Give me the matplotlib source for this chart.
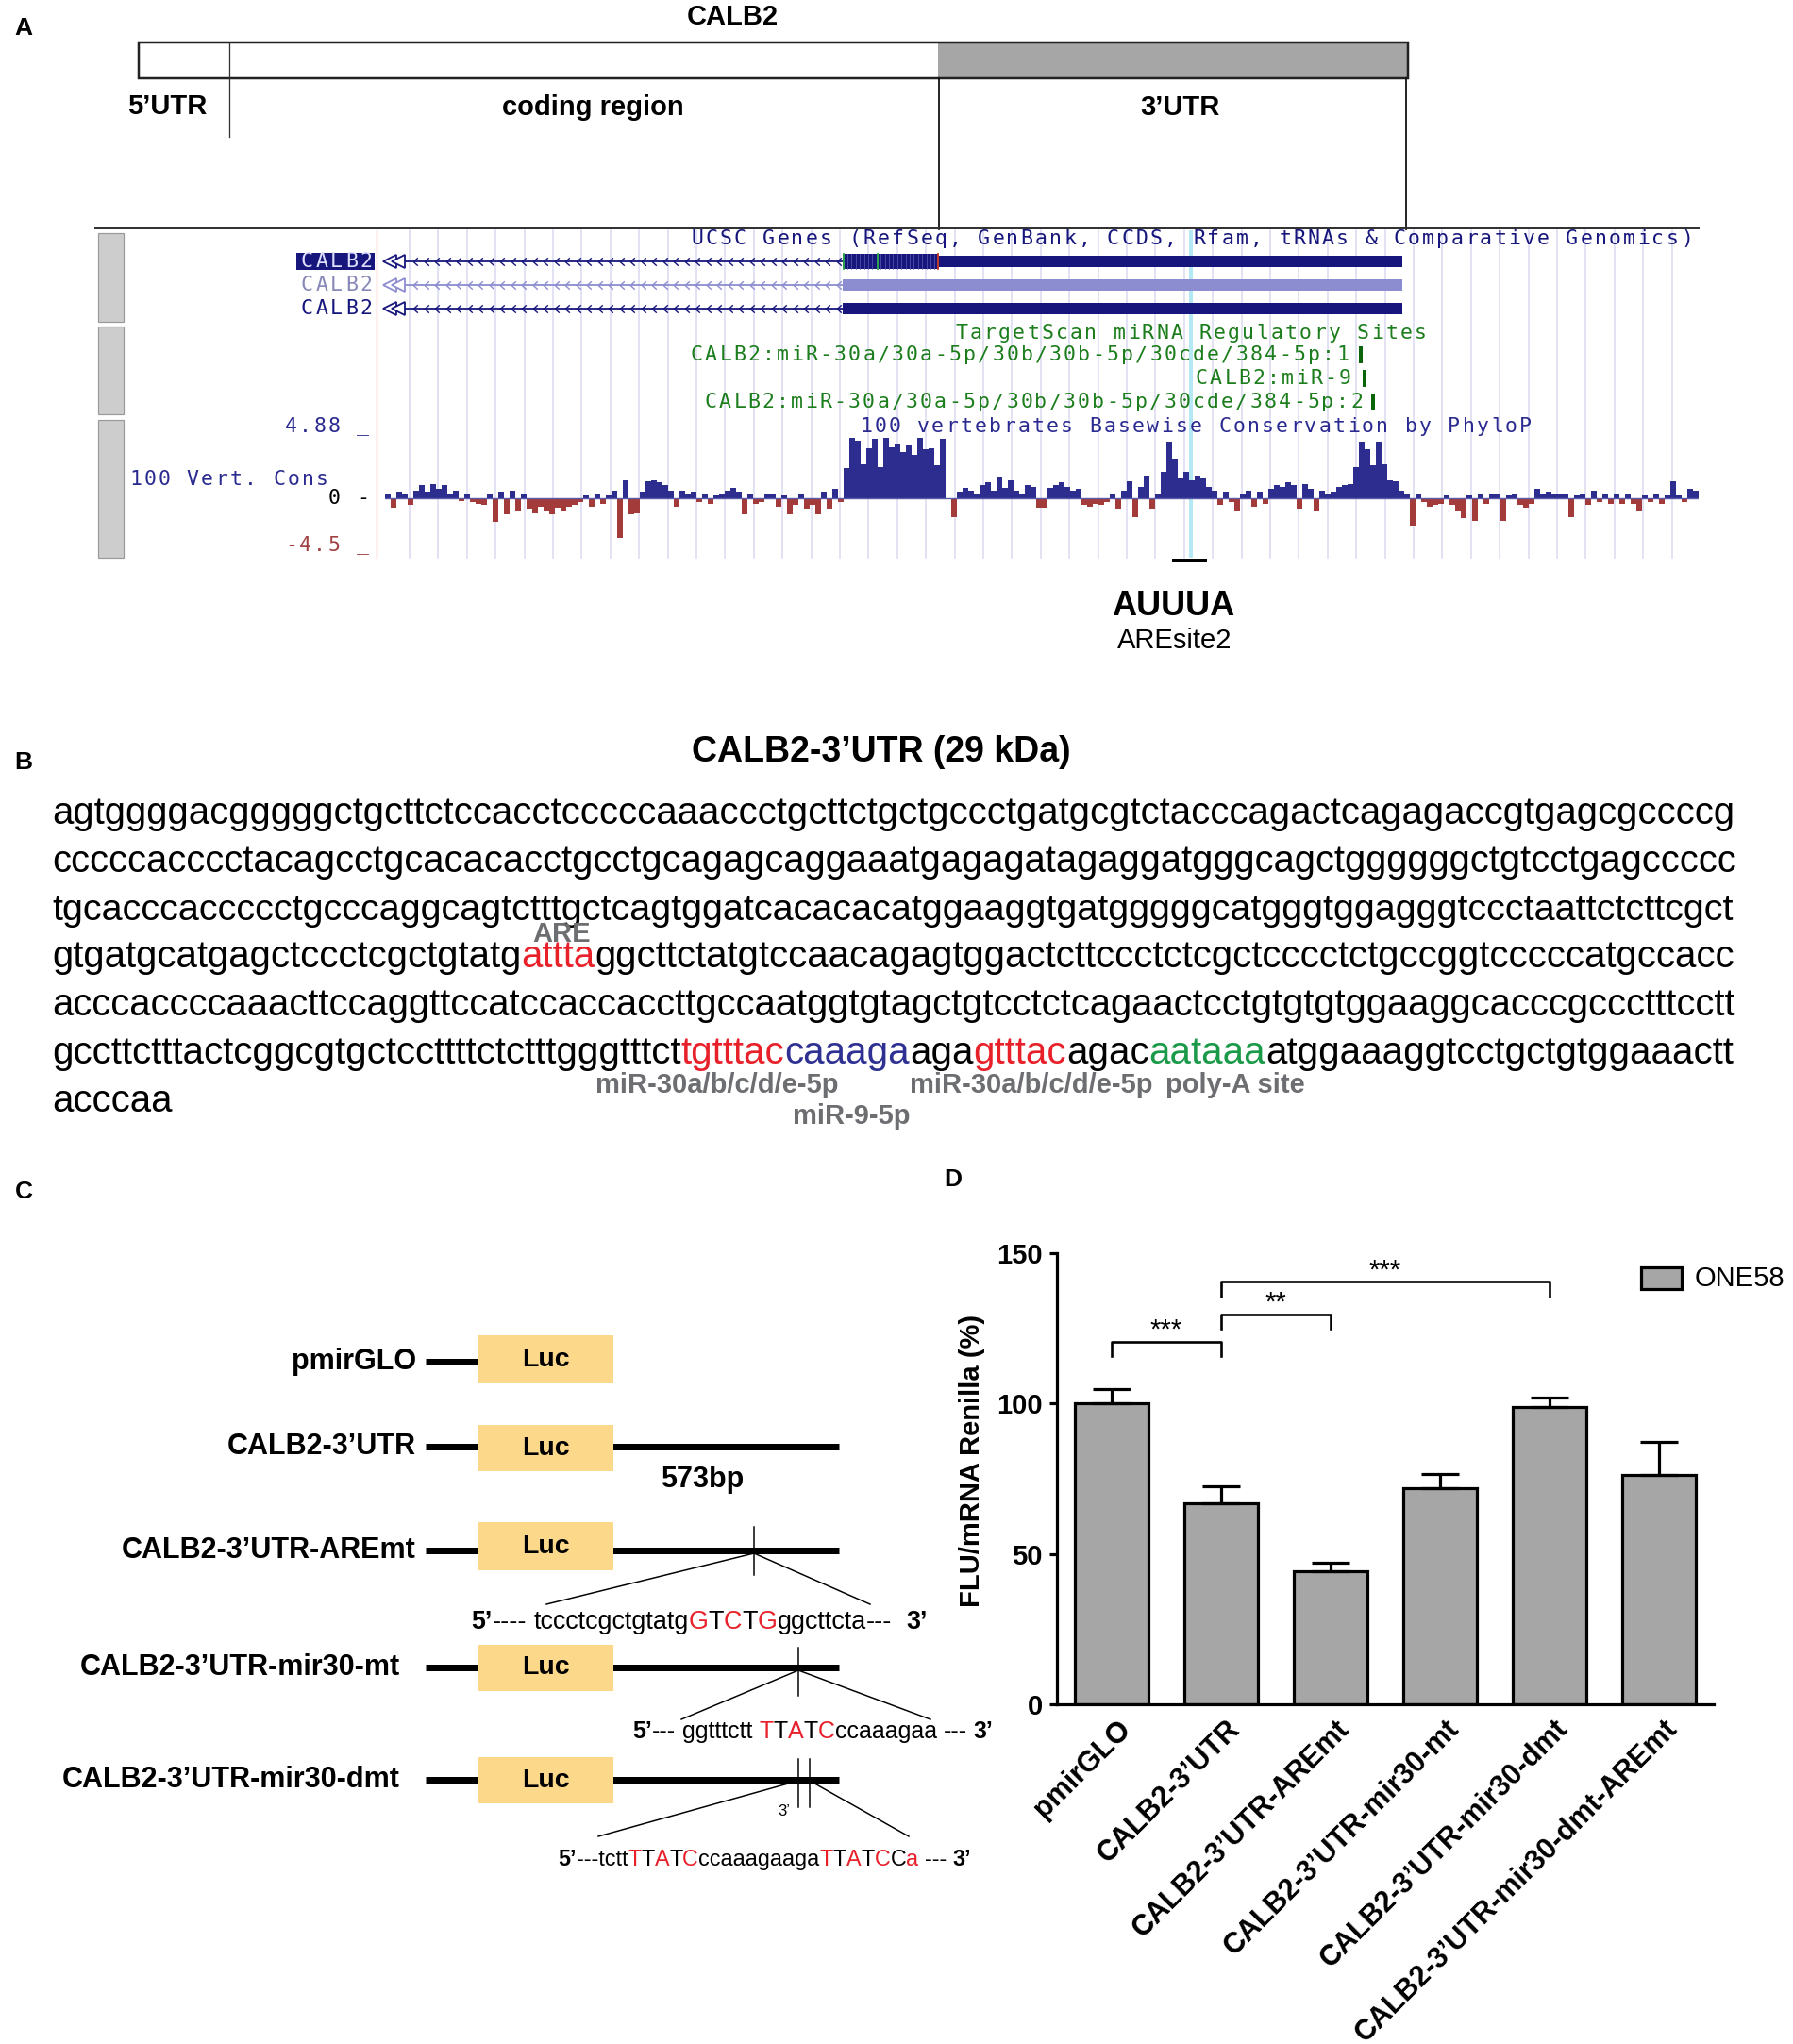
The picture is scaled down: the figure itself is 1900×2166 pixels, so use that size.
import numpy as np
import matplotlib
matplotlib.use('Agg')
import matplotlib.pyplot as plt
from matplotlib.patches import Rectangle
from matplotlib.path import Path
from matplotlib.transforms import ScaledTranslation

# ---------------- data ----------------
constructs = ['pmirGLO', 'CALB2-3’UTR', 'CALB2-3’UTR-AREmt', 'CALB2-3’UTR-mir30-mt',
              'CALB2-3’UTR-mir30-dmt', 'CALB2-3’UTR-mir30-dmt-AREmt']
flu_mean = [100.2, 66.7, 44.1, 71.9, 98.7, 76.4]
flu_err = [4.5, 5.7, 3.0, 4.7, 3.4, 10.7]
sig_pairs = [(0, 1), (1, 2), (1, 4)]
sig_labels = ['***', '**', '***']
sig_heights = [120.5, 129.7, 140.5]
y_ticks = [0, 50, 100, 150]
legend_label = 'ONE58'

# PhyloP basewise conservation (approximate, read from the browser track)
phylop_scores = [
    0.4, -0.7, 0.5, 0.4, -0.5, 0.6, 1.0, 0.5, 1.1, 0.7, 1.0, 0.3, 0.6, -0.2, 0.3,
    -0.3, -0.4, -0.5, 0.3,
    -1.8,
    0.5, -1.2, 0.6, -1.0, 0.4,
    -0.8, -1.1, -0.6, -0.9, -1.2, -0.7, -1.0, -0.6, -0.5, -0.3,
    0.2, -0.6, 0.3, -0.4, 0.2, 0.6,
    -3.0, 1.4, -1.2, -1.1,
    0.5, 1.3, 1.4, 1.2, 1.0, 0.6,
    -0.6, 0.6, 0.4, 0.5, -0.3, 0.3, -0.4, 0.2, 0.4, 0.6, 0.8, 0.5, -1.2, 0.3, -0.4,
    -0.3, 0.4, 0.3, -0.6, 0.2, -1.2, -0.5, 0.3, -0.8, -0.5, -1.2, 0.5, -0.8, 0.7, -0.3,
    2.3, 4.6, 4.4, 2.6, 3.8, 4.5, 2.4, 4.6, 3.9, 4.1, 3.5, 4.0, 3.3, 4.6, 3.7, 3.8, 2.5, 4.5,
    0.0, -1.4, 0.5, 0.8, 0.6, 0.3, 1.0, 1.2, 0.6, 1.6, 0.8, 1.4, 0.6, 0.4, 1.0, 0.9, -0.7, -0.7, 0.8,
    1.0, 1.2, 0.9, 0.6, 0.7,
    -0.5, -0.6, -0.4, -0.5, -0.3, 0.4,
    -0.8, 0.6, 1.3, -1.4, 0.9, 1.7, -0.8, 0.4,
    2.0, 4.3, 3.0,
    1.5, 2.0, 1.4, 1.7, 1.5, 0.9,
    0.6, -0.5, 0.5, -0.3, -1.0, 0.4, 0.6, -0.6, 0.5, -0.4, 0.7, 1.0, 0.9, 1.2, 1.0, -0.8,
    1.1, 0.7, -1.0, 0.6, 0.3, 0.5,
    0.9, 1.0, 1.1, 2.4,
    4.3, 3.7, 2.5, 4.3, 2.6,
    1.4, 1.3, 0.6, 0.3,
    -2.1, 0.4, -0.3, -0.6, -0.5, -0.4, 0.2, -0.5, -1.0, -1.5, 0.2, -1.7, 0.3, -0.4, 0.4,
    0.3, -1.7, 0.2, 0.3, -0.5, -0.7, -0.4, 0.7, 0.4, 0.5, 0.3, 0.4, 0.3, -1.4, 0.2, 0.4,
    -0.5, 0.6, -0.3, 0.4, -0.4, 0.3, -0.4, 0.3, -0.4, -1.0, 0.2, -0.3, 0.3, -0.4, 0.2,
    1.3, 0.2, -0.3, 0.7, 0.6,
]

seq_lines = [
    [('agtggggacgggggctgcttctccacctcccccaaaccctgcttctgctgccctgatgcgtctacccagactcagagaccgtgagcgccccg', 'k')],
    [('cccccacccctacagcctgcacacacctgcctgcagagcaggaaatgagagatagaggatgggcagctggggggctgtcctgagccccc', 'k')],
    [('tgcacccaccccctgcccaggcagtctttgctcagtggatcacacacatggaaggtgatgggggcatgggtggagggtccctaattctcttcgct', 'k')],
    [('gtgatgcatgagctccctcgctgtatg', 'k'), ('attta', 'red'),
     ('ggcttctatgtccaacagagtggactcttccctctcgctcccctctgccggtcccccatgccacc', 'k')],
    [('acccaccccaaacttccaggttccatccaccaccttgccaatggtgtagctgtcctctcagaactcctgtgtgtggaaggcacccgccctttcctt', 'k')],
    [('gccttctttactcggcgtgctccttttctctttgggtttct', 'k'), ('tgtttac', 'red'), ('caaaga', 'blue'),
     ('aga', 'k'), ('gtttac', 'red'), ('agac', 'k'), ('aataaa', 'green'),
     ('atggaaaggtcctgctgtggaaactt', 'k')],
    [('acccaa', 'k')],
]

# ---------------- setup ----------------
SANS = 'Liberation Sans'
MONO = 'DejaVu Sans Mono'
W, H, DPI = 1900, 2166, 100
PX = 72.0 / DPI   # pixel -> points
plt.rcParams['font.family'] = [SANS, 'DejaVu Sans']
fig = plt.figure(figsize=(W / DPI, H / DPI), dpi=DPI)
fig.patch.set_facecolor('white')
ax = fig.add_axes([0, 0, 1, 1])
ax.set_xlim(0, W)
ax.set_ylim(H, 0)
ax.axis('off')
renderer = fig.canvas.get_renderer()

COL = {'k': 'black', 'red': '#E8202A', 'blue': '#2E3192', 'green': '#1A9A48', 'grey': '#6D6E71'}
NAVY = '#16167c'


def fig_axes(x0, y0, x1, y1):
    a = fig.add_axes([x0 / W, 1 - y1 / H, (x1 - x0) / W, (y1 - y0) / H])
    a.patch.set_alpha(0)
    return a


def measure(t, size, weight='normal'):
    if t.strip() == '':
        return len(t) * 0.278 * size / PX
    a = ax.text(0, 0, t, fontsize=size, fontweight=weight)
    w = a.get_window_extent(renderer).width
    a.remove()
    return w


def draw_runs(x0, y, pieces, size, target=None, va='baseline'):
    if target is not None:
        tot = sum(measure(t, size, w) for t, c, w in pieces)
        size = size * target / tot
    x = x0
    for t, c, w in pieces:
        wd = measure(t, size, w)
        if t.strip():
            ax.text(x, y, t, fontsize=size, color=c, fontweight=w, va=va, ha='left')
        x += wd
    return size


def mono(x, y, s, color, pitch=15.2, size=15.5, align='left', z=3):
    if align == 'right':
        x = x - pitch * len(s)
    elif align == 'center':
        x = x - pitch * len(s) / 2
    for i, ch in enumerate(s):
        if ch != ' ':
            ax.text(x + pitch * (i + 0.5), y, ch, fontsize=size, family=MONO, color=color,
                    ha='center', va='center', zorder=z)


def letter(x, y, s):
    ax.text(x, y, s, fontsize=19, fontweight='bold', ha='center', va='center')


# ================= Panel A =================
letter(25, 30, 'A')
ax.text(776, 18, 'CALB2', fontsize=21, fontweight='bold', ha='center', va='center')
ax.add_patch(Rectangle((147, 45), 994 - 147, 38, fc='white', ec='none'))
ax.add_patch(Rectangle((994, 45), 1492 - 994, 38, fc='#a6a6a6', ec='none'))
ax.add_patch(Rectangle((147, 45), 1492 - 147, 38, fc='none', ec='#222222', lw=2.5 * PX))
ax.plot([243, 243], [45, 145], color='#333333', lw=1.3 * PX)
ax.plot([995, 995], [83, 243], color='#111111', lw=1.8 * PX)
ax.plot([1490, 1490], [83, 243], color='#111111', lw=1.8 * PX)
ax.text(177, 113, '5’UTR', fontsize=21, fontweight='bold', ha='center', va='center')
ax.text(628, 114, 'coding region', fontsize=21, fontweight='bold', ha='center', va='center')
ax.text(1250, 114, '3’UTR', fontsize=21, fontweight='bold', ha='center', va='center')

# UCSC browser frame
ax.plot([101, 1800], [242, 242], color='#333333', lw=2 * PX)
for y0, y1 in [(247, 341), (346, 439), (445, 591)]:
    ax.add_patch(Rectangle((104, y0), 27, y1 - y0, fc='#cdcdcd', ec='#9a9a9a', lw=1.2 * PX))
ax.plot([399, 399], [244, 591], color='#f2a0a0', lw=1.3 * PX, zorder=1)
for gx in np.arange(434, 1800, 30.4):
    ax.plot([gx, gx], [244, 591], color='#dcdcf2', lw=1.6 * PX, zorder=0.5)
ax.add_patch(Rectangle((1260, 244), 4, 347, fc='#b4e8f4', ec='none', zorder=0.6))

mono(1795, 253, 'UCSC Genes (RefSeq, GenBank, CCDS, Rfam, tRNAs & Comparative Genomics)', NAVY,
     align='right')

chev = Path([(0.5, 0.9), (-0.5, 0.0), (0.5, -0.9)], [Path.MOVETO, Path.LINETO, Path.LINETO])
track_y = [277, 302, 327]
track_col = [NAVY, '#8c8cd0', NAVY]
for k, (ty, col) in enumerate(zip(track_y, track_col)):
    ax.plot([430, 893], [ty, ty], color=col, lw=1.8 * PX, zorder=2)
    xs = np.arange(440, 890, 11.5)
    ax.plot(xs, [ty] * len(xs), ls='none', marker=chev, ms=6, mec=col, mfc='none', mew=1.0, zorder=2)
    for cx in [413, 422]:
        ax.plot(cx, ty, marker='<', ms=10, mfc='white', mec=col, mew=1.3, zorder=2)
    if k == 0:
        ax.add_patch(Rectangle((314, ty - 9), 83, 18, fc=NAVY, ec='none', zorder=2))
        mono(396, ty, 'CALB2', '#dfe0ff', pitch=15.8, align='right')
        ax.add_patch(Rectangle((995, ty - 6), 491, 12, fc=NAVY, ec='none', zorder=2))
        ax.add_patch(Rectangle((893, ty - 8), 102, 16, fc=NAVY, ec='none', zorder=2))
        for lx in np.arange(898, 993, 4.4):
            ax.plot([lx, lx], [ty - 8, ty + 8], color='#5a5ab4', lw=0.5, zorder=2.1)
        for lx, lc in [(894, '#2fae4a'), (930, '#2fae4a'), (994, '#d04020')]:
            ax.plot([lx, lx], [ty - 8, ty + 8], color=lc, lw=1.3, zorder=2.2)
    else:
        mono(396, ty, 'CALB2', '#8888b8' if k == 1 else NAVY, pitch=15.8, align='right')
        ax.add_patch(Rectangle((893, ty - 6), 593, 12, fc=col, ec='none', zorder=2))

GREEN_T = '#1c7d1c'
mono(1262, 353, 'TargetScan miRNA Regulatory Sites', GREEN_T, align='center')
mono(1430, 376, 'CALB2:miR-30a/30a-5p/30b/30b-5p/30cde/384-5p:1', GREEN_T, align='right')
mono(1433, 401, 'CALB2:miR-9', GREEN_T, align='right')
mono(1445, 426, 'CALB2:miR-30a/30a-5p/30b/30b-5p/30cde/384-5p:2', GREEN_T, align='right')
for bx, by in [(1442, 376), (1446, 401), (1455, 426)]:
    ax.add_patch(Rectangle((bx - 2, by - 9), 4, 18, fc='#0a640a', ec='none', zorder=2))
mono(910, 452, '100 vertebrates Basewise Conservation by PhyloP', '#2a2a90')
mono(392, 452, '4.88 _', '#2a2a90', align='right')
mono(392, 528, '0 -', 'black', align='right')
mono(392, 578, '-4.5 _', '#a04040', align='right')
mono(136, 508, '100 Vert. Cons', '#2a2a90')

axc = fig_axes(408, 460, 1800, 591)
vals = np.array(phylop_scores)
idx = np.arange(len(vals)) + 0.5
axc.set_xlim(0, len(vals))
axc.set_ylim(-4.5, 4.88)
axc.axis('off')
axc.bar(idx, vals, width=0.85, color=np.where(vals >= 0, '#2d2d90', '#a33b3b'), linewidth=0)
axc.axhline(0, color='#5a5aa8', lw=1.0)

ax.plot([1244, 1277], [594, 594], color='black', lw=4 * PX)
ax.text(1243, 643, 'AUUUA', fontsize=26, fontweight='bold', ha='center', va='center')
ax.text(1245, 679, 'AREsite2', fontsize=21, ha='center', va='center')

# ================= Panel B =================
letter(25, 808, 'B')
ax.text(934, 797, 'CALB2-3’UTR (29 kDa)', fontsize=27, fontweight='bold', ha='center', va='center')
base0, step = 873, 50.8
seq_size = None
for i, line in enumerate(seq_lines):
    pieces = [(t, COL[c], 'normal') for t, c in line]
    if i < 6:
        s = draw_runs(55, base0 + i * step, pieces, 28, target=1781)
        if seq_size is None:
            seq_size = s
    else:
        draw_runs(55, base0 + i * step, pieces, seq_size)
labs_b = [('ARE', 564, 990), ('miR-30a/b/c/d/e-5p', 631, 1150), ('miR-9-5p', 840, 1183),
          ('miR-30a/b/c/d/e-5p', 964, 1150), ('poly-A site', 1235, 1150)]
for t, x, y in labs_b:
    ax.text(x, y, t, fontsize=21, fontweight='bold', color=COL['grey'], ha='left', va='center')

# ================= Panel C =================
letter(25, 1263, 'C')
LUC = '#FCD88A'
rows = [  # (label, label_right, line_y, box_top, box_bot, has_utr)
    (constructs[0], 441, 1443, 1415, 1466, False),
    (constructs[1], 441, 1533, 1510, 1559, True),
    (constructs[2], 441, 1643, 1613, 1664, True),
    (constructs[3], 424, 1767, 1743, 1792, True),
    (constructs[4], 424, 1886, 1862, 1911, True),
]
for lab, lr, ly, bt, bb, utr in rows:
    ax.text(lr, ly, lab, fontsize=22, fontweight='bold', ha='right', va='center')
    ax.plot([451, 512], [ly, ly], color='black', lw=7 * PX, solid_capstyle='butt', zorder=2)
    if utr:
        ax.plot([648, 889], [ly, ly], color='black', lw=7 * PX, solid_capstyle='butt', zorder=2)
    ax.add_patch(Rectangle((507, bt), 143, bb - bt, fc=LUC, ec='none', zorder=3))
    ax.text(578, (bt + bb) / 2, 'Luc', fontsize=20.5, fontweight='bold', ha='center', va='center', zorder=4)
ax.text(744, 1568, '573bp', fontsize=22, fontweight='bold', ha='center', va='center')

# mutation markers
ax.plot([799, 799], [1618, 1669], color='black', lw=1.5 * PX)
ax.plot([579, 799, 922], [1700, 1646, 1700], color='black', lw=1.5 * PX)
ax.plot([846, 846], [1746, 1797], color='black', lw=1.5 * PX)
ax.plot([722, 846, 986], [1822, 1770, 1822], color='black', lw=1.5 * PX)
ax.plot([846, 846], [1864, 1915], color='black', lw=1.5 * PX)
ax.plot([858, 858], [1864, 1915], color='black', lw=1.5 * PX)
ax.plot([634, 846], [1946, 1887], color='black', lw=1.5 * PX)
ax.plot([858, 963], [1887, 1946], color='black', lw=1.5 * PX)
ax.text(831, 1920, '3’', fontsize=12, ha='center', va='center')

R, K = COL['red'], 'black'
B, N = 'bold', 'normal'
seq_c = [
    (499, 1726, 481, [('5’', K, B), ('----', K, N), (' ', K, N), ('tccctcgctgtatg', K, N), ('G', R, N),
                      ('T', K, N), ('C', R, N), ('T', K, N), ('G', R, N), ('ggcttcta', K, N),
                      ('---', K, N), ('  ', K, N), ('3’', K, B)]),
    (670, 1842, 382, [('5’', K, B), ('---', K, N), (' ', K, N), ('ggtttctt', K, N), (' ', K, N),
                      ('T', R, N), ('T', K, N), ('A', R, N), ('T', K, N), ('C', R, N),
                      ('ccaaagaa', K, N), (' ', K, N), ('---', K, N), (' ', K, N), ('3’', K, B)]),
    (591, 1977, 437, [('5’', K, B), ('---tctt', K, N), ('T', R, N), ('T', K, N), ('A', R, N), ('T', K, N),
                      ('C', R, N), ('ccaaagaaga', K, N), ('T', R, N), ('T', K, N), ('A', R, N),
                      ('T', K, N), ('C', R, N), ('C', K, N), ('a', R, N), (' ', K, N), ('---', K, N),
                      (' ', K, N), ('3’', K, B)]),
]
for x0, yb, tw, pieces in seq_c:
    draw_runs(x0, yb, pieces, 20, target=tw)

# ================= Panel D =================
letter(1010, 1250, 'D')
axd = fig_axes(1120, 1328, 1816, 1806)
xpos = np.arange(len(constructs))
axd.bar(xpos, flu_mean, width=0.67, color='#a6a6a6', edgecolor='black', linewidth=2.3, zorder=2)
axd.errorbar(xpos, flu_mean, yerr=[np.zeros(len(flu_err)), flu_err], fmt='none', ecolor='black',
             elinewidth=2.3, capsize=14.5, capthick=2.3, zorder=3)
axd.set_xlim(-0.5, len(constructs) - 0.5)
axd.set_ylim(0, 150)
axd.set_yticks(y_ticks)
axd.set_yticklabels([str(v) for v in y_ticks], fontsize=21, fontweight='bold')
axd.set_xticks(xpos)
axd.set_xticklabels(constructs, rotation=45, ha='right', rotation_mode='anchor',
                    fontsize=22, fontweight='bold')
for sp in ['top', 'right']:
    axd.spines[sp].set_visible(False)
for sp in ['left', 'bottom']:
    axd.spines[sp].set_linewidth(2.3)
axd.tick_params(axis='y', length=6, width=2.3, pad=5)
axd.tick_params(axis='x', length=0, pad=8)
for lbl in axd.get_xticklabels():
    lbl.set_transform(lbl.get_transform() + ScaledTranslation(5 / DPI, 0, fig.dpi_scale_trans))
for (a, b), s, hgt in zip(sig_pairs, sig_labels, sig_heights):
    axd.plot([a, a, b, b], [hgt - 4.8, hgt, hgt, hgt - 4.8], color='black', lw=1.9, clip_on=False)
    axd.text((a + b) / 2, hgt + 3.8, s, fontsize=21, ha='center', va='center')
ax.text(1030, 1548, 'FLU/mRNA Renilla (%)', fontsize=21, fontweight='bold', rotation=90,
        ha='center', va='center')
ax.add_patch(Rectangle((1739, 1343), 43, 23, fc='#a6a6a6', ec='black', lw=2.3))
ax.text(1796, 1355, legend_label, fontsize=21, ha='left', va='center')

fig.savefig('out.png', dpi=DPI, facecolor='white')
